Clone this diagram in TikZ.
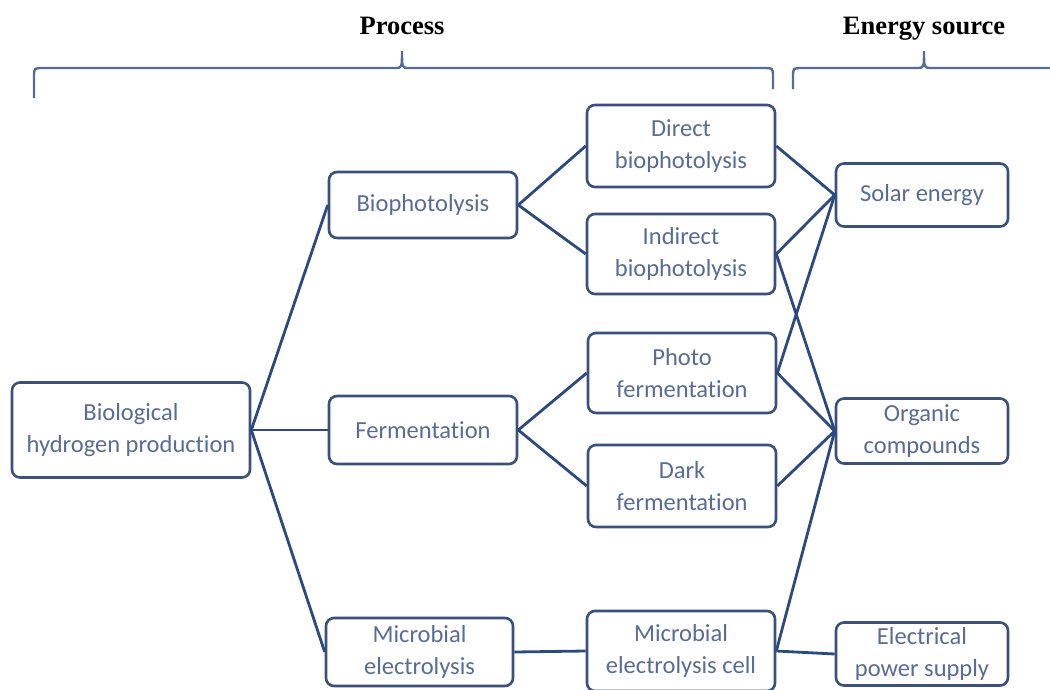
\documentclass[tikz,border=0pt]{standalone}
\usepackage{fontspec}
\setmainfont{Carlito}[RawFeature={-liga;-calt;-clig;-dlig}]
\newfontfamily\headfont{Liberation Serif}
\definecolor{txtc}{RGB}{88,108,150}
\definecolor{boxc}{RGB}{58,80,125}
\definecolor{linec}{RGB}{44,74,128}
\definecolor{bracec}{RGB}{85,108,150}
\begin{document}
\begin{tikzpicture}[x=1pt,y=-1pt,
  box/.style={draw=boxc, line width=2.6pt, rounded corners=8pt, fill=white,
    text=txtc, align=center, inner sep=0pt, minimum width=188pt,
    font=\fontsize{24.5}{32}\selectfont},
  conn/.style={draw=linec, line width=2.8pt},
  bracestyle/.style={draw=bracec, line width=2.4pt},
  head/.style={font=\headfont\bfseries\fontsize{26.5}{30}\selectfont, text=black, inner sep=0pt, anchor=base}]
\useasboundingbox (0,0) rectangle (1050,689);
\fill[white] (0,0) rectangle (1050,689);

% headings and braces
\node[head] (hproc) at (402,34) {Process};
\node[head] (hener) at (924,34) {Energy source};
\draw[bracestyle] (34,98) -- (34,77) .. controls (34,68) .. (43,68) -- (395,68)
  .. controls (402,68) .. (402,51) .. controls (402,68) .. (409,68) -- (764,68)
  .. controls (773,68) .. (773,77) -- (773,89);
\draw[bracestyle] (793,89) -- (793,77) .. controls (793,68) .. (802,68) -- (917,68)
  .. controls (924,68) .. (924,51) .. controls (924,68) .. (931,68) -- (1056,68);

% nodes
\node[box, minimum width=238pt, minimum height=95pt] (bhp) at (131,430) {Biological\\hydrogen production};
\node[box, minimum height=66pt] (bio) at (423,205) {Biophotolysis};
\node[box, minimum height=68pt] (fer) at (423,430) {Fermentation};
\node[box, minimum width=187pt, minimum height=68pt] (mel) at (419.5,652) {Microbial\\electrolysis};
\node[box, minimum height=82pt] (dir) at (681,146) {Direct\\biophotolysis};
\node[box, minimum height=80pt] (ind) at (681,254) {Indirect\\biophotolysis};
\node[box, minimum height=80pt] (pho) at (682,373) {Photo\\fermentation};
\node[box, minimum height=82pt] (dark) at (682,486) {Dark\\fermentation};
\node[box, minimum height=80pt] (mec) at (681,651) {Microbial\\electrolysis cell};
\node[box, minimum width=172pt, minimum height=63pt] (sol) at (922,195) {Solar energy};
\node[box, minimum width=172pt, minimum height=65pt] (org) at (922,431) {Organic\\compounds};
\node[box, minimum width=172pt, minimum height=63pt] (ele) at (922,654) {Electrical\\power supply};

% connectors
\draw[conn] (bhp.east) -- (bio.west);
\draw[conn] (bhp.east) -- (fer.west);
\draw[conn] (bhp.east) -- (mel.west);
\draw[conn] (bio.east) -- (dir.west);
\draw[conn] (bio.east) -- (ind.west);
\draw[conn] (fer.east) -- (pho.west);
\draw[conn] (fer.east) -- (dark.west);
\draw[conn] (mel.east) -- (mec.west);
\draw[conn] (dir.east) -- (sol.west);
\draw[conn] (ind.east) -- (sol.west);
\draw[conn] (ind.east) -- (org.west);
\draw[conn] (pho.east) -- (sol.west);
\draw[conn] (pho.east) -- (org.west);
\draw[conn] (dark.east) -- (org.west);
\draw[conn] (mec.east) -- (org.west);
\draw[conn] (mec.east) -- (ele.west);
\end{tikzpicture}
\end{document}
